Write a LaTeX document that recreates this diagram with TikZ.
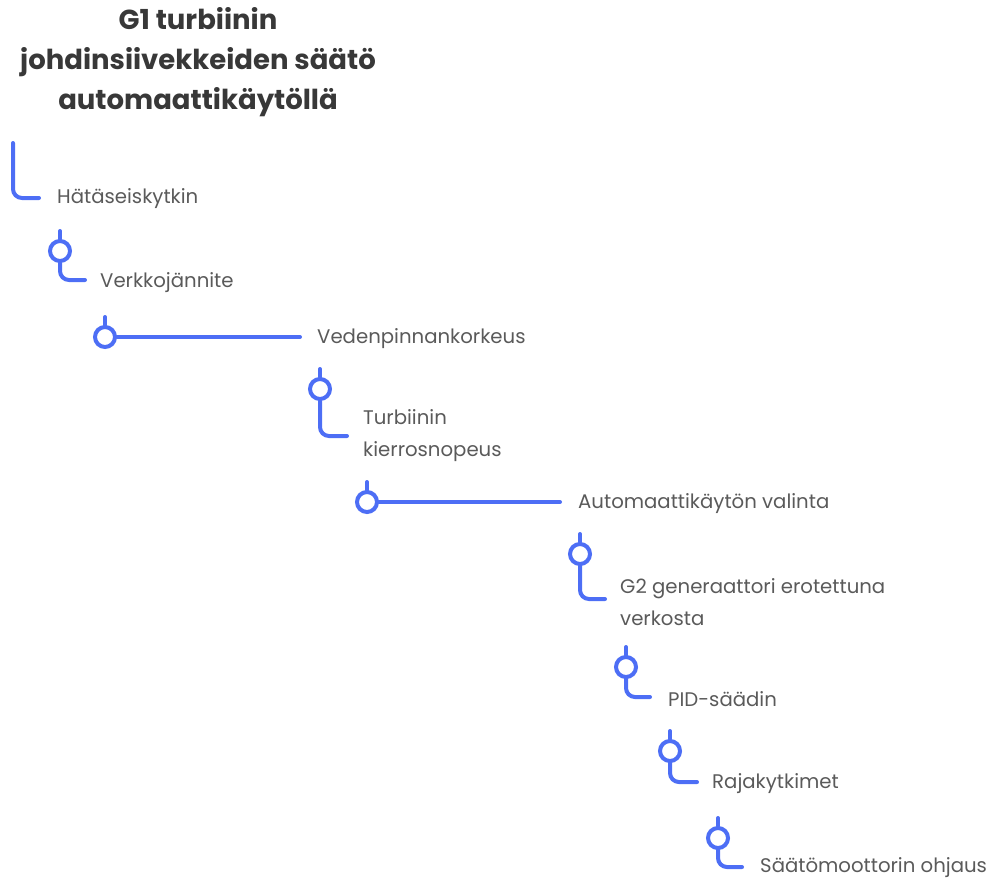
\documentclass[tikz,border=0pt]{standalone}
\usepackage{fontspec}
\setmainfont{Poppins}
\usepackage{xcolor}
\definecolor{lineblue}{HTML}{4D6EF5}
\definecolor{labelgray}{HTML}{5A5A5A}
\definecolor{titlegray}{HTML}{383838}

\begin{document}
\begin{tikzpicture}[x=1pt,y=-1pt,
  dot/.style={minimum size=20pt,inner sep=0pt,draw=lineblue,line width=4pt,circle},
  lbl/.style={anchor=west,inner sep=0pt,yshift=-2pt,text=labelgray,align=left,font=\fontsize{19.7}{32}\selectfont},
  wire/.style={draw=lineblue,line width=4pt,rounded corners=9pt,line cap=round}]
\useasboundingbox (0,0) rectangle (1000,879);
\draw (198,62) node[align=center,text=titlegray,font=\bfseries\fontsize{27.5}{40}\selectfont](title) {G1 turbiinin\\johdinsiivekkeiden säätö\\automaattikäytöllä};
% first step has no circle
\coordinate (s1) at (13,143);
\coordinate (e1) at (39,198);
\draw (57,197) node[lbl](l1) {Hätäseiskytkin};
\draw (60,251) node[dot](c2) {};
\coordinate (s2) at (60,231);
\coordinate (e2) at (85,280);
\draw (100,281) node[lbl](l2) {Verkkojännite};
\draw (105,337) node[dot](c3) {};
\coordinate (s3) at (105,317);
\coordinate (e3) at (300,337);
\draw (317,337) node[lbl](l3) {Vedenpinnankorkeus};
\draw (320,389) node[dot](c4) {};
\coordinate (s4) at (320,369);
\coordinate (e4) at (347,436);
\draw (363,434) node[lbl](l4) {Turbiinin\\kierrosnopeus};
\draw (367,502) node[dot](c5) {};
\coordinate (s5) at (367,482);
\coordinate (e5) at (560,502);
\draw (578,502) node[lbl](l5) {Automaattikäytön valinta};
\draw (580,554) node[dot](c6) {};
\coordinate (s6) at (580,534);
\coordinate (e6) at (605,599);
\draw (620,600) node[lbl](l6) {G2 generaattori erotettuna\\verkosta};
\draw (626,667) node[dot](c7) {};
\coordinate (s7) at (626,647);
\coordinate (e7) at (650,697);
\draw (668,697) node[lbl](l7) {PID-säädin};
\draw (670,751) node[dot](c8) {};
\coordinate (s8) at (670,731);
\coordinate (e8) at (697,782);
\draw (712,782) node[lbl](l8) {Rajakytkimet};
\draw (718,838) node[dot](c9) {};
\coordinate (s9) at (718,818);
\coordinate (e9) at (742,867);
\draw (760,866) node[lbl](l9) {Säätömoottorin ohjaus};
% stems and connectors
\draw[wire] (s1) |- (e1);
\draw[wire] (s2) -- (c2);
\draw[wire] (c2) |- (e2);
\draw[wire] (s3) -- (c3);
\draw[wire] (c3) -- (e3);
\draw[wire] (s4) -- (c4);
\draw[wire] (c4) |- (e4);
\draw[wire] (s5) -- (c5);
\draw[wire] (c5) -- (e5);
\draw[wire] (s6) -- (c6);
\draw[wire] (c6) |- (e6);
\draw[wire] (s7) -- (c7);
\draw[wire] (c7) |- (e7);
\draw[wire] (s8) -- (c8);
\draw[wire] (c8) |- (e8);
\draw[wire] (s9) -- (c9);
\draw[wire] (c9) |- (e9);
\end{tikzpicture}
\end{document}
